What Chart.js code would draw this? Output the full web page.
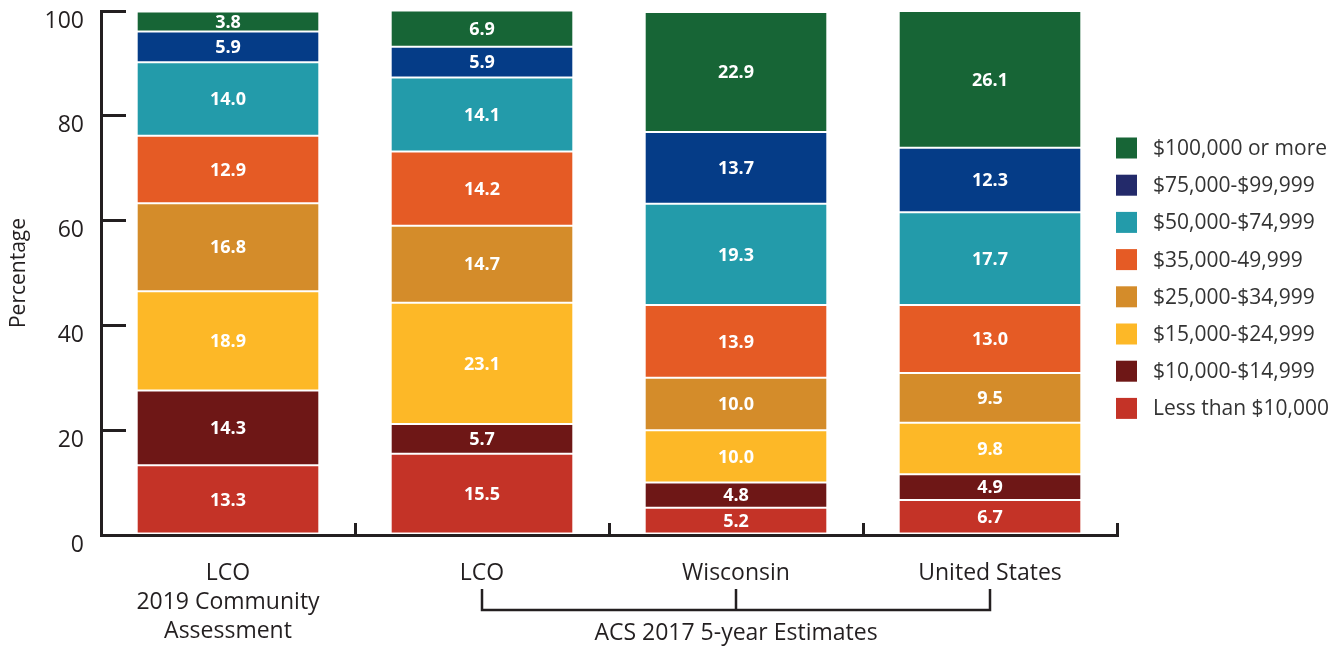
<!DOCTYPE html>
<html>
<head>
<meta charset="utf-8">
<title>Household income</title>
<script src="https://cdn.jsdelivr.net/npm/chart.js@4.4.0/dist/chart.umd.min.js"></script>
<style>
    html, body { margin: 0; padding: 0; background: #fff; }
    #wrap { width: 1341px; height: 648px; position: relative; }
</style>
</head>
<body>
<div id="wrap"><canvas id="incomeChart"></canvas></div>
<script>
// categorías del eje x
const categories = [['LCO', '2019 Community', 'Assessment'], 'LCO', 'Wisconsin', 'United States'];
const groupLabel = 'ACS 2017 5-year Estimates';
const yTicks = [0, 20, 40, 60, 80, 100];

// tramos de ingresos, de abajo hacia arriba
const bands = [
    'Less than $10,000', '$10,000-$14,999', '$15,000-$24,999', '$25,000-$34,999',
    '$35,000-49,999', '$50,000-$74,999', '$75,000-$99,999', '$100,000 or more'
];
const under10k = [13.3, 15.5, 5.2, 6.7];
const from10k = [14.3, 5.7, 4.8, 4.9];
const from15k = [18.9, 23.1, 10.0, 9.8];
const from25k = [16.8, 14.7, 10.0, 9.5];
const from35k = [12.9, 14.2, 13.9, 13.0];
const from50k = [14.0, 14.1, 19.3, 17.7];
const from75k = [5.9, 5.9, 13.7, 12.3];
const over100k = [3.8, 6.9, 22.9, 26.1];

const seriesValues = [under10k, from10k, from15k, from25k, from35k, from50k, from75k, over100k];
const barColors = ['#C43327', '#6E1716', '#FDB827', '#D48C2A', '#E55B25', '#239BAA', '#053C87', '#176536'];
const legendColors = ['#C43327', '#6E1716', '#FDB827', '#D48C2A', '#E55B25', '#239BAA', '#232A6A', '#176536'];

const axisColor = '#231f20';
const FONT = '"Open Sans", sans-serif';

// etiquetas blancas dentro de cada segmento
const segmentLabels = {
    id: 'segmentLabels',
    afterDatasetsDraw(chart) {
        const ctx = chart.ctx;
        ctx.save();
        ctx.fillStyle = '#fff';
        ctx.font = 'bold 18px ' + FONT;
        ctx.textAlign = 'center';
        ctx.textBaseline = 'middle';
        chart.data.datasets.forEach((ds, i) => {
            chart.getDatasetMeta(i).data.forEach((bar, j) => {
                ctx.fillText(ds.data[j].toFixed(1), bar.x, (bar.y + bar.base) / 2 + 1);
            });
        });
        ctx.restore();
    }
};

// leyenda a la derecha (orden invertido)
const sideLegend = {
    id: 'sideLegend',
    afterDraw(chart) {
        const ctx = chart.ctx;
        ctx.save();
        ctx.font = '21px ' + FONT;
        ctx.textBaseline = 'middle';
        ctx.textAlign = 'left';
        for (let k = 0; k < bands.length; k++) {
            const i = bands.length - 1 - k;
            const cy = 148 + k * 37.2;
            ctx.fillStyle = legendColors[i];
            ctx.fillRect(1116, cy - 10.5, 21, 21);
            ctx.fillStyle = '#333';
            ctx.fillText(bands[i], 1153, cy + 1);
        }
        ctx.restore();
    }
};

// corchete bajo las tres columnas ACS
const acsBracket = {
    id: 'acsBracket',
    afterDraw(chart) {
        const ctx = chart.ctx;
        const x = chart.scales.x;
        const x1 = x.getPixelForValue(1), x2 = x.getPixelForValue(2), x3 = x.getPixelForValue(3);
        const top = 589, bottom = 610;
        ctx.save();
        ctx.strokeStyle = axisColor;
        ctx.lineWidth = 2.5;
        ctx.beginPath();
        ctx.moveTo(x1, top); ctx.lineTo(x1, bottom); ctx.lineTo(x3, bottom); ctx.lineTo(x3, top);
        ctx.moveTo(x2, top); ctx.lineTo(x2, bottom);
        ctx.stroke();
        ctx.fillStyle = axisColor;
        ctx.font = '23px ' + FONT;
        ctx.textAlign = 'center';
        ctx.textBaseline = 'middle';
        ctx.fillText(groupLabel, x2, 633);
        ctx.restore();
    }
};

const ctxIncome = document.getElementById('incomeChart').getContext('2d');
new Chart(ctxIncome, {
    type: 'bar',
    data: {
        labels: categories,
        datasets: bands.map((band, i) => ({
            label: band,
            data: seriesValues[i],
            backgroundColor: barColors[i],
            borderColor: '#fff',
            borderWidth: { top: 1, bottom: 1, left: 0, right: 0 },
            borderSkipped: false,
            barPercentage: 0.713,
            categoryPercentage: 1
        }))
    },
    options: {
        responsive: true,
        maintainAspectRatio: false,
        animation: false,
        layout: { padding: { top: 11, right: 224, left: 0, bottom: 0 } },
        scales: {
            x: {
                stacked: true,
                afterFit: s => { s.height = 113; },
                border: { display: true, color: axisColor, width: 3 },
                grid: { drawOnChartArea: false, drawTicks: true, tickLength: -12, color: axisColor, lineWidth: 3, offset: true },
                ticks: { color: axisColor, font: { family: FONT, size: 23, lineHeight: 1.26 }, padding: 36, maxRotation: 0 }
            },
            y: {
                stacked: true,
                min: 0,
                max: 100,
                afterFit: s => { s.width = 101; s.paddingTop = 0; s.paddingBottom = 0; },
                afterBuildTicks: s => { s.ticks = yTicks.map(v => ({ value: v })); },
                border: { display: true, color: axisColor, width: 3 },
                grid: { drawOnChartArea: false, drawTicks: true, tickLength: -25, color: axisColor, lineWidth: 3 },
                ticks: { color: axisColor, font: { family: FONT, size: 23 }, padding: 42, labelOffset: 10 },
                title: { display: true, text: 'Percentage', color: axisColor, font: { family: FONT, size: 21 }, padding: { top: 6 } }
            }
        },
        plugins: { legend: { display: false }, tooltip: { enabled: false } }
    },
    plugins: [segmentLabels, sideLegend, acsBracket]
});
</script>
</body>
</html>
